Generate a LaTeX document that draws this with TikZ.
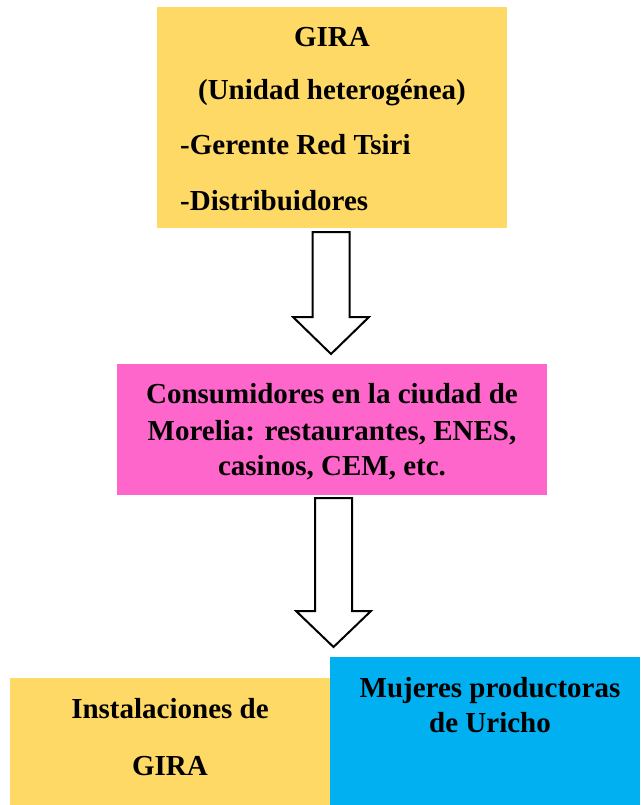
\documentclass[tikz,border=0pt]{standalone}
\usepackage{fontspec}
\setmainfont{Liberation Serif}
\definecolor{giraYellow}{HTML}{FFD966}
\definecolor{consPink}{HTML}{FF66CC}
\definecolor{mujBlue}{HTML}{00B0F0}
\begin{document}
\begin{tikzpicture}[x=1pt,y=-1pt]
\tikzstyle{box} = [draw=none,inner sep=0pt]
\tikzstyle{txt} = [font=\fontsize{29}{34}\selectfont\bfseries,inner sep=0pt]
\tikzstyle{blockarrow} = [draw=black,fill=white,line width=2pt,line join=miter]
  \useasboundingbox (0,0) rectangle (640,805);
  %boxes
  \node[box,fill=giraYellow,minimum width=350,minimum height=221] (gira) at (332,117.5) {};
  \node[box,fill=consPink,minimum width=430,minimum height=131] (cons) at (332,429.5) {};
  \node[box,fill=giraYellow,minimum width=320,minimum height=127] (inst) at (170,741.5) {};
  \node[box,fill=mujBlue,minimum width=310,minimum height=148] (muj) at (485,731) {};
  %texts
  \node[txt,anchor=base] (gira1) at (332,47) {GIRA};
  \node[txt,anchor=base] (gira2) at (332,100) {(Unidad heterogénea)};
  \node[txt,anchor=base west] (gira3) at (180,155) {-Gerente Red Tsiri};
  \node[txt,anchor=base west] (gira4) at (180,210) {-Distribuidores};
  \node[txt,anchor=base] (cons1) at (332,403) {Consumidores en la ciudad de};
  \node[txt,anchor=base] (cons2) at (332,440) {Morelia: restaurantes, ENES,};
  \node[txt,anchor=base] (cons3) at (332,475) {casinos, CEM, etc.};
  \node[txt,anchor=base] (inst1) at (170,718) {Instalaciones de};
  \node[txt,anchor=base] (inst2) at (170,775) {GIRA};
  \node[txt,anchor=base] (muj1) at (490,697) {Mujeres productoras};
  \node[txt,anchor=base] (muj2) at (490,732) {de Uricho};
  %arrows
  \coordinate (tip1) at (331,354);
  \coordinate (tip2) at (333.5,647);
  \draw[blockarrow] (tip1) -- ++(-38,-37) -- ++(19.5,0) -- ++(0,-85) -- ++(37,0)
    -- ++(0,85) -- ++(19.5,0) -- cycle;
  \draw[blockarrow] (tip2) -- ++(-37.5,-36) -- ++(19,0) -- ++(0,-113) -- ++(37,0)
    -- ++(0,113) -- ++(19,0) -- cycle;
\end{tikzpicture}
\end{document}
